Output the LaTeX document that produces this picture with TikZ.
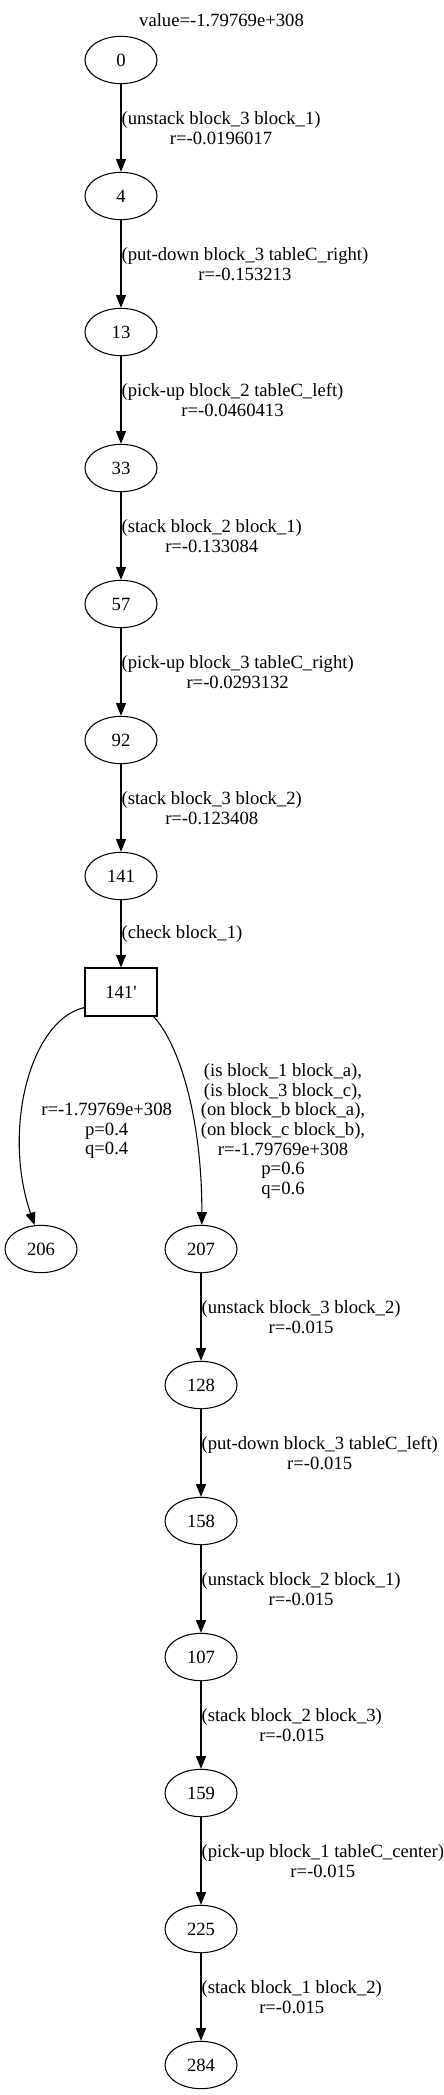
\documentclass[tikz,border=0pt]{standalone}
\usepackage{fontspec}
\setmainfont{Liberation Serif}
\usetikzlibrary{arrows.meta,shapes.geometric}
\tikzset{
  every node/.style={font=\fontsize{14pt}{14.7pt}\selectfont},
  stnode/.style={draw, ellipse, line width=0.8pt, minimum width=54pt, minimum height=35.5pt, inner sep=0pt},
  chknode/.style={draw, rectangle, line width=0.8pt, minimum width=54pt, minimum height=36pt, inner sep=0pt},
  edge/.style={draw, line width=0.8pt, -{Triangle[length=9.5pt,width=7.5pt]}},
  lbl/.style={anchor=west, align=center, inner xsep=0pt, inner ysep=0pt},
  flbl/.style={align=center, inner sep=0pt}
}
\begin{document}
\begin{tikzpicture}[x=0.75pt,y=-0.75pt]
\useasboundingbox (0,0) rectangle (443,2095);
\node[inner sep=0pt] (title) at (221.5,20) {value=-1.79769e+308};
% main column
\node[stnode] (n0) at (121,60) {0};
\node[stnode] (n4) at (121,196) {4};
\node[stnode] (n13) at (121,332) {13};
\node[stnode] (n33) at (121,468) {33};
\node[stnode] (n57) at (121,604) {57};
\node[stnode] (n92) at (121,740) {92};
\node[stnode] (n141) at (121,876) {141};
\node[chknode] (n141p) at (121,992) {141\textquotesingle};
\node[stnode] (n206) at (41,1249) {206};
\node[stnode] (n207) at (201,1249) {207};
\node[stnode] (n128) at (201,1385) {128};
\node[stnode] (n158) at (201,1521) {158};
\node[stnode] (n107) at (201,1657) {107};
\node[stnode] (n159) at (201,1793) {159};
\node[stnode] (n225) at (201,1929) {225};
\node[stnode] (n284) at (201,2065) {284};
% edges
\draw[edge] (n0) -- node[lbl]{(unstack block\_3 block\_1)\\r=-0.0196017} (n4);
\draw[edge] (n4) -- node[lbl]{(put-down block\_3 tableC\_right)\\r=-0.153213} (n13);
\draw[edge] (n13) -- node[lbl]{(pick-up block\_2 tableC\_left)\\r=-0.0460413} (n33);
\draw[edge] (n33) -- node[lbl]{(stack block\_2 block\_1)\\r=-0.133084} (n57);
\draw[edge] (n57) -- node[lbl]{(pick-up block\_3 tableC\_right)\\r=-0.0293132} (n92);
\draw[edge] (n92) -- node[lbl]{(stack block\_3 block\_2)\\r=-0.123408} (n141);
\draw[edge] (n141) -- node[lbl]{(check block\_1)} (n141p);
\draw[edge] (n141p.203) .. controls (30,1020) and (2,1130) .. (n206.105);
\draw[edge] (n141p.323) .. controls (180,1045) and (202,1120) .. (n207.88);
\node[flbl] (l206) at (106.7,1131) {r=-1.79769e+308\\p=0.4\\q=0.4};
\node[flbl] (l207) at (283,1131) {(is block\_1 block\_a),\\(is block\_3 block\_c),\\(on block\_b block\_a),\\(on block\_c block\_b),\\r=-1.79769e+308\\p=0.6\\q=0.6};
\draw[edge] (n207) -- node[lbl]{(unstack block\_3 block\_2)\\r=-0.015} (n128);
\draw[edge] (n128) -- node[lbl]{(put-down block\_3 tableC\_left)\\r=-0.015} (n158);
\draw[edge] (n158) -- node[lbl]{(unstack block\_2 block\_1)\\r=-0.015} (n107);
\draw[edge] (n107) -- node[lbl]{(stack block\_2 block\_3)\\r=-0.015} (n159);
\draw[edge] (n159) -- node[lbl]{(pick-up block\_1 tableC\_center)\\r=-0.015} (n225);
\draw[edge] (n225) -- node[lbl]{(stack block\_1 block\_2)\\r=-0.015} (n284);
\end{tikzpicture}
\end{document}
